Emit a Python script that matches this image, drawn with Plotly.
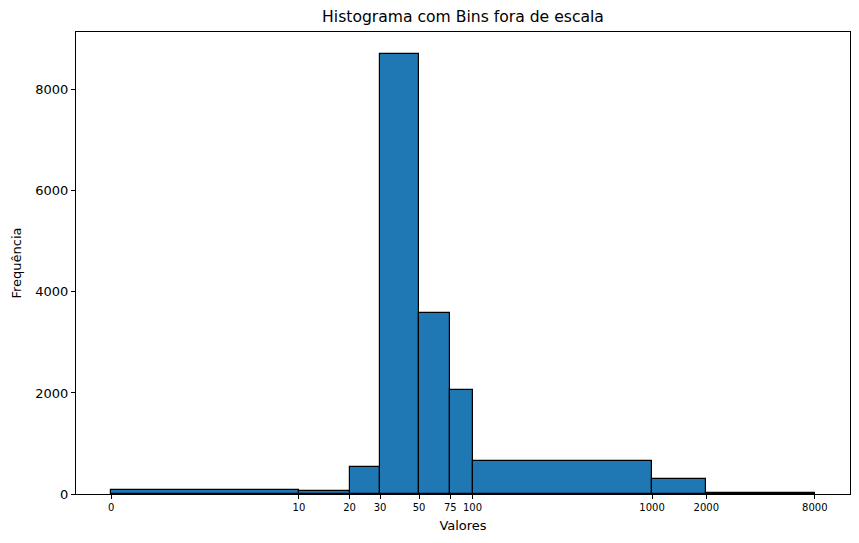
import numpy as np
import plotly.graph_objects as go

# bin edges (original values) and counts per bin
bin_edges = [0, 10, 20, 30, 50, 75, 100, 1000, 2000, 8000]
counts = [88, 62, 525, 8710, 3580, 2060, 660, 290, 20]

# the x axis is drawn on log10(x + 1) so the bins are "out of scale"
pos = np.log10(np.array(bin_edges) + 1)
centers = (pos[:-1] + pos[1:]) / 2
widths = pos[1:] - pos[:-1]

span = pos[-1] - pos[0]
x_range = [pos[0] - 0.05 * span, pos[-1] + 0.05 * span]
y_range = [0, max(counts) * 1.05]

fig = go.Figure(go.Bar(
    x=centers,
    y=counts,
    width=widths,
    marker=dict(color="#1f77b4", line=dict(color="black", width=1.2)),
    hoverinfo="y",
))

axis_style = dict(
    showgrid=False, zeroline=False, showline=True, linecolor="black",
    linewidth=1, mirror=True, ticks="outside", ticklen=4, tickcolor="black",
)

# page has an 8px body margin, so the figure is sized to fit inside it
W, H = 851, 535
fig.update_layout(
    width=W, height=H,
    margin=dict(l=67, r=8, t=24, b=49),
    paper_bgcolor="white", plot_bgcolor="white",
    font=dict(family="DejaVu Sans", color="black"),
    title=dict(text="Histograma com Bins fora de escala", x=(67 + 843) / 2 / W,
               xanchor="center", y=1 - 9 / H, yanchor="middle", font=dict(size=15.6)),
    bargap=0,
    showlegend=False,
)
fig.update_xaxes(
    range=x_range, tickvals=pos, ticktext=[str(e) for e in bin_edges],
    tickfont=dict(size=10), title=dict(text="Valores", font=dict(size=13), standoff=8),
    **axis_style,
)
fig.update_yaxes(
    range=y_range, tickvals=[0, 2000, 4000, 6000, 8000],
    tickfont=dict(size=13), title=dict(text="Frequência", font=dict(size=13), standoff=10),
    **axis_style,
)

fig.write_html("out.html")
